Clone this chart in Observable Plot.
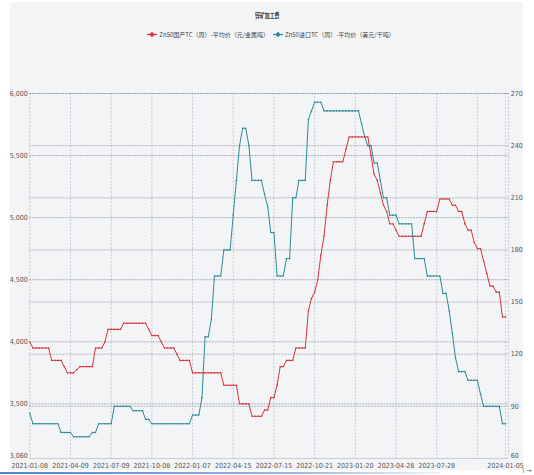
<!DOCTYPE html>
<html>
<head>
<meta charset="utf-8">
<script src="https://cdn.jsdelivr.net/npm/d3@7"></script>
<script src="https://cdn.jsdelivr.net/npm/@observablehq/plot@0.6"></script>
<style>
  html, body { margin: 0; padding: 0; background: #ffffff; }
  #wrap { position: relative; width: 534px; height: 475px; overflow: hidden; }
  #panel { position: absolute; left: 10px; top: 2px; width: 513px; height: 468px; background: #f3f4f6; }
  #title { position: absolute; left: 0; top: 10px; width: 534px; text-align: center;
           font-family: "Noto Sans CJK SC", sans-serif; font-weight: bold; font-size: 6.5px; color: #333; }
  #title span { display: inline-block; transform: scaleX(0.75); }
  #legend { position: absolute; left: 0; top: 30px; width: 542px; display: flex; justify-content: center; gap: 4px;
            font-family: "Noto Sans CJK SC", sans-serif; font-size: 6px; color: #444; }
  .item { display: flex; align-items: center; gap: 2px; }
  .item span { display: inline-block; }
  #chart { position: absolute; left: 0; top: 60px; }
  #bar { position: absolute; left: 0; top: 472px; width: 440px; height: 2px;
         background: linear-gradient(to right, #4f86c9, #9fbde3 70%, rgba(200,215,235,0.3)); }
</style>
</head>
<body>
<div id="wrap">
  <div id="panel"></div>
  <div id="title"><span>锌矿加工费</span></div>
  <div id="legend"></div>
  <div id="chart"></div>
  <div id="bar"></div>
</div>
<script>
// ---- data ----
const chartTitle = "锌矿加工费";
const seriesNames = ["Zn50国产TC（周）-平均价（元/金属吨）", "Zn50进口TC（周）-平均价（美元/干吨）"];
const seriesColors = ["#d8323d", "#2f8a95"];

// weekly categories (Fridays), holiday weeks absent from the source
const firstWeek = "2021-01-08";
const missingWeeks = ["2022-02-04", "2022-10-07", "2023-01-27", "2023-10-06"];

// Zn50 domestic TC, yuan per metal tonne (left axis)
const domesticTC = [
  4000, 3950, 3950, 3950, 3950, 3950, 3950, 3850, 3850, 3850,
  3850, 3800, 3750, 3750, 3750, 3775, 3800, 3800, 3800, 3800,
  3800, 3950, 3950, 3950, 4000, 4100, 4100, 4100, 4100, 4100,
  4150, 4150, 4150, 4150, 4150, 4150, 4150, 4150, 4100, 4050,
  4050, 4050, 4000, 3950, 3950, 3950, 3950, 3900, 3850, 3850,
  3850, 3850, 3750, 3750, 3750, 3750, 3750, 3750, 3750, 3750,
  3750, 3750, 3650, 3650, 3650, 3650, 3650, 3500, 3500, 3500,
  3500, 3400, 3400, 3400, 3400, 3450, 3450, 3550, 3550, 3650,
  3800, 3800, 3850, 3850, 3850, 3950, 3950, 3950, 3950, 4250,
  4350, 4400, 4500, 4700, 4850, 5100, 5300, 5450, 5450, 5450,
  5450, 5550, 5650, 5650, 5650, 5650, 5650, 5650, 5650, 5500,
  5350, 5300, 5200, 5100, 5050, 4950, 4950, 4900, 4850, 4850,
  4850, 4850, 4850, 4850, 4850, 4850, 4950, 5050, 5050, 5050,
  5050, 5150, 5150, 5150, 5150, 5100, 5100, 5050, 5050, 4950,
  4900, 4900, 4800, 4750, 4750, 4650, 4550, 4450, 4450, 4400,
  4400, 4200, 4200
];

// Zn50 imported TC, USD per dry tonne (right axis)
const importedTC = [
  86, 80, 80, 80, 80, 80, 80, 80, 80, 80,
  75, 75, 75, 75, 72.5, 72.5, 72.5, 72.5, 72.5, 72.5,
  75, 75, 80, 80, 80, 80, 80, 90, 90, 90,
  90, 90, 90, 87.5, 87.5, 87.5, 87.5, 82.5, 82.5, 80,
  80, 80, 80, 80, 80, 80, 80, 80, 80, 80,
  80, 80, 85, 85, 85, 95, 130, 130, 140, 165,
  165, 165, 180, 180, 180, 200, 220, 240, 250, 250,
  240, 220, 220, 220, 220, 212, 205, 190, 190, 165,
  165, 165, 175, 175, 210, 210, 220, 220, 220, 255,
  260, 265, 265, 265, 260, 260, 260, 260, 260, 260,
  260, 260, 260, 260, 260, 260, 252.5, 245, 240, 240,
  230, 230, 220, 210, 210, 200, 200, 200, 195, 195,
  195, 195, 195, 175, 175, 175, 175, 165, 165, 165,
  165, 165, 155, 155, 145, 132, 118, 110, 110, 110,
  105, 105, 105, 105, 97, 90, 90, 90, 90, 90,
  90, 80, 80
];

const leftTicks = [3060, 3500, 4000, 4500, 5000, 5500, 6000];
const leftDomain = [3060, 6000];
const rightTicks = [60, 90, 120, 150, 180, 210, 240, 270];
const rightDomain = [60, 270];
const xTickIndex = [0, 13, 26, 39, 52, 65, 78, 91, 104, 117, 130, 143, 152];
const xTickLabels = ["2021-01-08", "2021-04-09", "2021-07-09", "2021-10-08", "2022-01-07", "2022-04-15",
  "2022-07-15", "2022-10-21", "2023-01-20", "2023-04-28", "2023-07-28", "", "2024-01-05"];

// ---- build categories ----
const weeks = [];
{
  let d = new Date(firstWeek + "T00:00:00Z");
  while (weeks.length < domesticTC.length) {
    const s = d.toISOString().slice(0, 10);
    if (!missingWeeks.includes(s)) weeks.push(s);
    d = new Date(d.getTime() + 7 * 86400000);
  }
}

// map right-axis values onto left scale
const k = (leftDomain[1] - leftDomain[0]) / (rightDomain[1] - rightDomain[0]);
const toLeft = v => leftDomain[0] + (v - rightDomain[0]) * k;
const fromLeft = v => Math.round((v - leftDomain[0]) / k + rightDomain[0]);

const rows = weeks.map((w, i) => ({i, week: w, dom: domesticTC[i], imp: toLeft(importedTC[i])}));

// ---- legend ----
const legend = document.getElementById("legend");
seriesNames.forEach((name, j) => {
  const it = document.createElement("div");
  it.className = "item";
  it.innerHTML = `<svg width="10" height="7"><line x1="0" x2="10" y1="3.5" y2="3.5" stroke="${seriesColors[j]}" stroke-width="1.2"/><rect x="3" y="1.5" width="4" height="4" fill="${seriesColors[j]}" transform="rotate(45 5 3.5)"/></svg><span>${name}</span>`;
  legend.appendChild(it);
});

// ---- chart ----
const gridColor = "#8d93a5";
const tickFont = "'Liberation Sans Narrow', 'DejaVu Sans Condensed', 'Liberation Sans', sans-serif";
const chart = Plot.plot({
  width: 534,
  height: 415,
  marginTop: 33,
  marginBottom: 17,
  marginLeft: 29.3,
  marginRight: 25.8,
  style: {background: "transparent", fontFamily: tickFont, fontSize: "7px", color: "#555"},
  x: {type: "linear", domain: [0, 153], axis: null},
  y: {domain: leftDomain, axis: null},
  marks: [
    Plot.ruleX(xTickIndex, {x: d => d, stroke: gridColor, strokeOpacity: 0.6, strokeWidth: 0.7, strokeDasharray: "2,1.5"}),
    Plot.ruleX([153], {x: d => d, stroke: gridColor, strokeOpacity: 0.6, strokeWidth: 0.7, strokeDasharray: "2,1.5"}),
    Plot.ruleY(leftTicks.slice(1), {y: d => d, stroke: gridColor, strokeOpacity: 0.9, strokeWidth: 0.8, strokeDasharray: "2,1"}),
    Plot.ruleY(rightTicks.slice(1).map(toLeft), {y: d => d, stroke: gridColor, strokeOpacity: 0.8, strokeWidth: 0.8, strokeDasharray: "2,1"}),
    Plot.ruleY([leftDomain[0]], {y: d => d, stroke: "#c9ccd4", strokeWidth: 1}),
    Plot.axisY(leftTicks.slice(1), {anchor: "left", tickSize: 0, tickPadding: 2, tickFormat: d3.format(","), fontSize: 7}),
    Plot.axisY(leftTicks.slice(0, 1), {anchor: "left", tickSize: 0, tickPadding: 2, tickFormat: d3.format(","), fontSize: 7, dy: -3}),
    Plot.axisY(rightTicks.slice(1).map(toLeft), {anchor: "right", tickSize: 0, tickPadding: 2, tickFormat: fromLeft, fontSize: 7}),
    Plot.axisY(rightTicks.slice(0, 1).map(toLeft), {anchor: "right", tickSize: 0, tickPadding: 2, tickFormat: fromLeft, fontSize: 7, dy: -3}),
    Plot.axisX(xTickIndex, {anchor: "bottom", tickSize: 0, tickPadding: 5, tickFormat: d => xTickLabels[xTickIndex.indexOf(d)], fontSize: 7}),
    Plot.line(rows, {x: "i", y: "imp", stroke: seriesColors[1], strokeWidth: 1}),
    Plot.dot(rows, {x: "i", y: "imp", r: 0.8, fill: seriesColors[1]}),
    Plot.line(rows, {x: "i", y: "dom", stroke: seriesColors[0], strokeWidth: 1}),
    Plot.dot(rows, {x: "i", y: "dom", r: 0.8, fill: seriesColors[0]})
  ]
});
document.getElementById("chart").appendChild(chart);
</script>
</body>
</html>
